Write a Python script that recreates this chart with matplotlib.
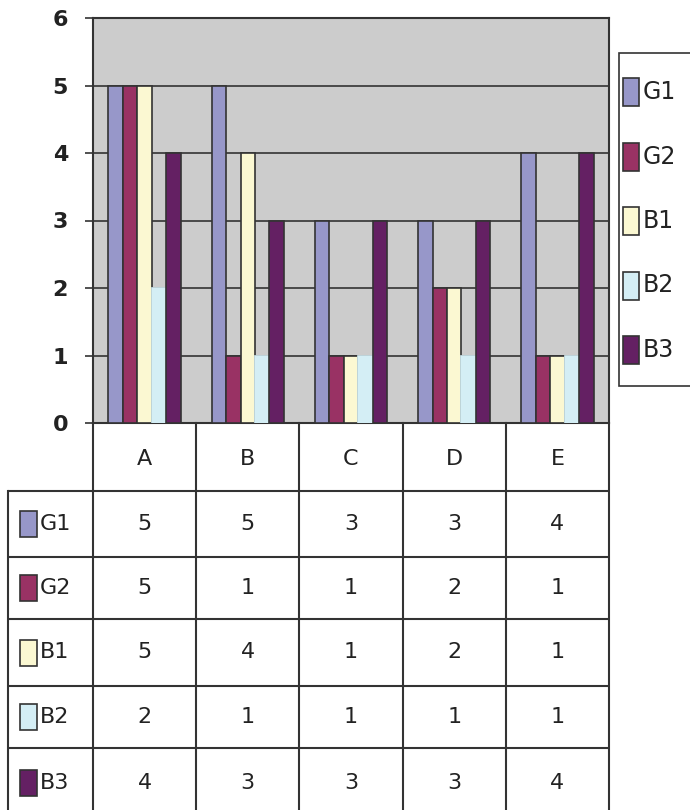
import numpy as np
import matplotlib
matplotlib.use("Agg")
from matplotlib import pyplot as plt
from matplotlib.patches import Rectangle

# data
categories = ["A", "B", "C", "D", "E"]
series = ["G1", "G2", "B1", "B2", "B3"]
g1 = [5, 5, 3, 3, 4]
g2 = [5, 1, 1, 2, 1]
b1 = [5, 4, 1, 2, 1]
b2 = [2, 1, 1, 1, 1]
b3 = [4, 3, 3, 3, 4]
values = [g1, g2, b1, b2, b3]
colors = ["#9797c9", "#993264", "#fbf8d2", "#d4eef5", "#642063"]
edges = ["#333333", "#333333", "#333333", "#d4eef5", "#333333"]

W, H = 690, 810
fig = plt.figure(figsize=(W / 100, H / 100), dpi=100)
fig.patch.set_facecolor("white")
line_c = "#333333"
txt_c = "#222222"

def px(x0, y0, x1, y1):
    return [x0 / W, 1 - y1 / H, (x1 - x0) / W, (y1 - y0) / H]

# main chart
ax = fig.add_axes(px(93, 18, 609, 423))
ax.set_facecolor("#cccccc")
x = np.arange(len(categories))
bw = 0.14
for i, (name, vals) in enumerate(zip(series, values)):
    ax.bar(x + (i - 2) * bw, vals, bw, color=colors[i], edgecolor=edges[i],
           linewidth=1.2, zorder=3)
ax.set_xlim(-0.5, 4.5)
ax.set_ylim(0, 6)
ax.set_yticks(range(7))
ax.set_yticklabels([str(v) for v in range(7)], fontsize=16, fontweight="bold",
                   color=txt_c)
ax.set_xticks([])
ax.tick_params(axis="y", length=6, width=1.2, color=line_c, pad=12)
for yv in range(1, 6):
    ax.axhline(yv, color=line_c, lw=1.2, zorder=1)
for s in ax.spines.values():
    s.set_color(line_c)
    s.set_linewidth(1.5)

# data table
tab = fig.add_axes(px(8, 423, 609, 810))
left = -0.5 - 85 / 103.2
tab.set_xlim(left, 4.5)
tab.set_ylim(387, 0)
tab.axis("off")
rows = [0, 68, 134, 196, 263, 325, 395]
for j in range(len(categories) + 1):
    tab.plot([j - 0.5, j - 0.5], [0, 400], color=line_c, lw=1.5, clip_on=False)
tab.plot([left, left], [rows[1], 400], color=line_c, lw=1.5, clip_on=False)
for r in rows[1:-1]:
    tab.plot([left, 4.5], [r, r], color=line_c, lw=1.5)
for j, c in enumerate(categories):
    tab.text(j, (rows[0] + rows[1]) / 2 + 2, c, ha="center", va="center",
             fontsize=16, color=txt_c)
for i, (name, vals) in enumerate(zip(series, values)):
    yc = (rows[i + 1] + rows[i + 2]) / 2
    for j, v in enumerate(vals):
        tab.text(j, yc, str(v), ha="center", va="center", fontsize=16,
                 color=txt_c)

# row labels with swatches (figure pixels)
for i, name in enumerate(series):
    yc = 423 + (rows[i + 1] + rows[i + 2]) / 2
    fig.patches.append(Rectangle((20 / W, 1 - (yc + 13) / H), 17 / W, 26 / H,
                                 transform=fig.transFigure,
                                 facecolor=colors[i], edgecolor=line_c, lw=1.2))
    fig.text(40 / W, 1 - yc / H, name, ha="left", va="center", fontsize=16,
             color=txt_c)

# legend
fig.patches.append(Rectangle((619 / W, 1 - 386 / H), 80 / W, 333 / H,
                             transform=fig.transFigure, facecolor="white",
                             edgecolor=line_c, lw=1.2))
for i, name in enumerate(series):
    yc = 92 + i * 64.5
    fig.patches.append(Rectangle((623 / W, 1 - (yc + 14) / H), 16 / W, 28 / H,
                                 transform=fig.transFigure,
                                 facecolor=colors[i], edgecolor=line_c, lw=1.2))
    fig.text(643 / W, 1 - yc / H, name, ha="left", va="center", fontsize=17,
             color=txt_c)

fig.savefig("out.png", dpi=100)
